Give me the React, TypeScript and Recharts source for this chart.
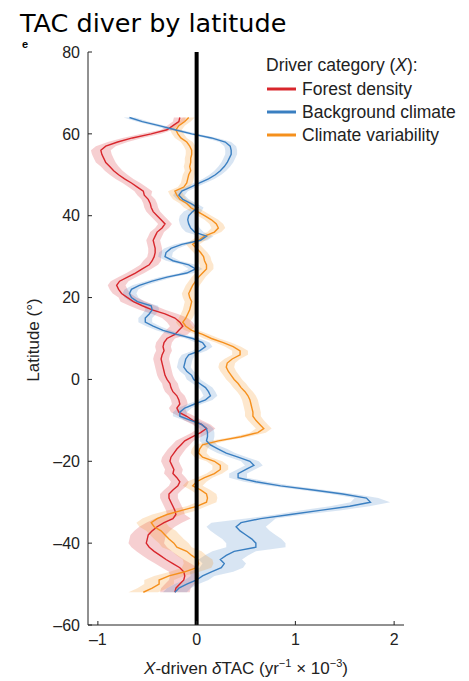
import React from "react";
import {
  ComposedChart, Line, Area, XAxis, YAxis, ReferenceLine,
} from "recharts";

// latitude (deg), north to south
const LATS = [
  64, 63, 62, 61, 60, 59, 58, 57, 56, 55,
  54, 53, 52, 51, 50, 49, 48, 47, 46, 45,
  44, 43, 42, 41, 40, 39, 38, 37, 36, 35,
  34, 33, 32, 31, 30, 29, 28, 27, 26, 25,
  24, 23, 22, 21, 20, 19, 18, 17, 16, 15,
  14, 13, 12, 11, 10, 9, 8, 7, 6, 5,
  4, 3, 2, 1, 0, -1, -2, -3, -4, -5,
  -6, -7, -8, -9, -10, -11, -12, -13, -14, -15,
  -16, -17, -18, -19, -20, -21, -22, -23, -24, -25,
  -26, -27, -28, -29, -30, -31, -32, -33, -34, -35,
  -36, -37, -38, -39, -40, -41, -42, -43, -44, -45,
  -46, -47, -48, -49, -50, -51, -52,
];

const FOREST_DENSITY = [
  -0.17, -0.18, -0.24, -0.30, -0.46, -0.65, -0.80, -0.92, -0.97, -0.96,
  -0.94, -0.92, -0.88, -0.84, -0.79, -0.73, -0.66, -0.60, -0.54, -0.53,
  -0.49, -0.47, -0.46, -0.44, -0.40, -0.36, -0.32, -0.35, -0.40, -0.42,
  -0.44, -0.43, -0.42, -0.42, -0.43, -0.45, -0.48, -0.55, -0.62, -0.70,
  -0.78, -0.81, -0.79, -0.76, -0.70, -0.64, -0.55, -0.45, -0.32, -0.22,
  -0.17, -0.14, -0.18, -0.22, -0.30, -0.33, -0.34, -0.33, -0.35, -0.36,
  -0.35, -0.34, -0.33, -0.32, -0.30, -0.27, -0.26, -0.24, -0.20, -0.18,
  -0.17, -0.20, -0.18, -0.10, -0.04, 0.05, 0.10, 0.04, -0.04, -0.12,
  -0.16, -0.20, -0.23, -0.26, -0.27, -0.25, -0.23, -0.24, -0.20, -0.17,
  -0.19, -0.24, -0.28, -0.28, -0.26, -0.24, -0.22, -0.21, -0.24, -0.33,
  -0.40, -0.45, -0.49, -0.50, -0.51, -0.48, -0.43, -0.37, -0.31, -0.24,
  -0.17, -0.13, -0.12, -0.13, -0.17, -0.21, -0.22,
];

const BACKGROUND_CLIMATE = [
  -0.68, -0.55, -0.38, -0.22, -0.05, 0.15, 0.29, 0.34, 0.35, 0.35,
  0.33, 0.31, 0.28, 0.24, 0.19, 0.12, 0.03, -0.06, -0.15, -0.18,
  -0.14, -0.06, 0.01, -0.04, -0.08, -0.09, -0.08, -0.06, -0.02, 0.10,
  0.04, -0.15, -0.26, -0.31, -0.32, -0.24, -0.08, -0.01, -0.10, -0.30,
  -0.45, -0.58, -0.66, -0.68, -0.66, -0.60, -0.46, -0.45, -0.48, -0.52,
  -0.52, -0.44, -0.34, -0.20, -0.04, 0.06, 0.09, 0.03, -0.08, -0.11,
  -0.12, -0.13, -0.10, -0.05, -0.03, 0.03, 0.09, 0.12, 0.14, 0.09,
  -0.02, -0.12, -0.17, -0.17, -0.06, 0.05, 0.10, 0.11, 0.11, 0.10,
  0.14, 0.22, 0.30, 0.42, 0.54, 0.58, 0.50, 0.42, 0.42, 0.60,
  0.85, 1.18, 1.48, 1.72, 1.76, 1.55, 1.25, 0.95, 0.65, 0.45,
  0.40, 0.44, 0.50, 0.56, 0.60, 0.60, 0.38, 0.30, 0.24, 0.28,
  0.25, 0.15, 0.06, 0.00, -0.10, -0.18, -0.22,
];

const CLIMATE_VARIABILITY = [
  -0.08, -0.12, -0.18, -0.21, -0.19, -0.16, -0.10, -0.07, -0.05, -0.05,
  -0.06, -0.06, -0.07, -0.06, -0.08, -0.09, -0.10, -0.13, -0.22, -0.20,
  -0.17, -0.10, -0.06, 0.01, 0.08, 0.15, 0.20, 0.22, 0.18, 0.08,
  0.02, -0.04, 0.00, 0.04, 0.07, 0.08, 0.10, 0.10, 0.06, 0.02,
  -0.01, -0.04, -0.06, -0.08, -0.07, -0.05, -0.06, -0.07, -0.09, -0.11,
  -0.14, -0.11, -0.05, 0.06, 0.15, 0.27, 0.37, 0.44, 0.44, 0.36,
  0.31, 0.30, 0.32, 0.35, 0.38, 0.42, 0.45, 0.49, 0.52, 0.54,
  0.55, 0.56, 0.57, 0.57, 0.60, 0.64, 0.68, 0.62, 0.45, 0.22,
  0.06, 0.03, 0.02, 0.06, 0.18, 0.24, 0.24, 0.18, 0.08, 0.00,
  -0.04, 0.04, 0.10, 0.11, 0.10, 0.00, -0.15, -0.30, -0.40, -0.46,
  -0.43, -0.36, -0.32, -0.28, -0.23, -0.20, -0.10, -0.05, 0.01, 0.02,
  0.00, -0.12, -0.28, -0.38, -0.38, -0.45, -0.54,
];

// half-width of the shaded uncertainty band
const FOREST_DENSITY_ERR = [
  0.06, 0.06, 0.06, 0.06, 0.10, 0.10, 0.10, 0.10, 0.10, 0.10,
  0.10, 0.10, 0.09, 0.09, 0.09, 0.09, 0.09, 0.09, 0.09, 0.07,
  0.07, 0.07, 0.07, 0.07, 0.07, 0.07, 0.07, 0.07, 0.07, 0.07,
  0.07, 0.07, 0.07, 0.07, 0.07, 0.09, 0.09, 0.09, 0.09, 0.09,
  0.09, 0.09, 0.09, 0.09, 0.09, 0.13, 0.13, 0.13, 0.13, 0.13,
  0.13, 0.13, 0.13, 0.13, 0.08, 0.08, 0.08, 0.08, 0.08, 0.08,
  0.08, 0.08, 0.08, 0.08, 0.08, 0.08, 0.08, 0.08, 0.08, 0.08,
  0.08, 0.08, 0.08, 0.08, 0.09, 0.09, 0.09, 0.09, 0.09, 0.09,
  0.09, 0.09, 0.09, 0.09, 0.09, 0.09, 0.09, 0.09, 0.09, 0.09,
  0.09, 0.09, 0.09, 0.09, 0.09, 0.09, 0.09, 0.09, 0.18, 0.18,
  0.18, 0.18, 0.18, 0.18, 0.18, 0.18, 0.18, 0.18, 0.18, 0.18,
  0.18, 0.15, 0.15, 0.15, 0.15, 0.15, 0.15,
];

const BACKGROUND_CLIMATE_ERR = [
  0.06, 0.06, 0.06, 0.06, 0.06, 0.06, 0.06, 0.06, 0.06, 0.06,
  0.06, 0.06, 0.06, 0.06, 0.06, 0.06, 0.06, 0.06, 0.06, 0.06,
  0.06, 0.06, 0.06, 0.09, 0.09, 0.09, 0.09, 0.09, 0.09, 0.07,
  0.07, 0.07, 0.07, 0.07, 0.07, 0.07, 0.07, 0.07, 0.07, 0.07,
  0.07, 0.07, 0.07, 0.07, 0.07, 0.07, 0.07, 0.07, 0.07, 0.07,
  0.07, 0.07, 0.07, 0.07, 0.07, 0.07, 0.07, 0.07, 0.07, 0.07,
  0.07, 0.07, 0.07, 0.07, 0.07, 0.07, 0.07, 0.07, 0.07, 0.07,
  0.07, 0.07, 0.07, 0.07, 0.07, 0.07, 0.07, 0.07, 0.07, 0.07,
  0.07, 0.09, 0.09, 0.09, 0.09, 0.09, 0.09, 0.09, 0.09, 0.12,
  0.12, 0.12, 0.12, 0.12, 0.20, 0.20, 0.20, 0.15, 0.15, 0.30,
  0.30, 0.30, 0.30, 0.30, 0.30, 0.30, 0.22, 0.22, 0.22, 0.22,
  0.22, 0.22, 0.12, 0.12, 0.12, 0.12, 0.12,
];

const CLIMATE_VARIABILITY_ERR = [
  0.06, 0.06, 0.06, 0.06, 0.06, 0.06, 0.06, 0.06, 0.06, 0.06,
  0.06, 0.06, 0.06, 0.06, 0.06, 0.06, 0.06, 0.06, 0.07, 0.07,
  0.07, 0.07, 0.07, 0.07, 0.07, 0.07, 0.07, 0.07, 0.07, 0.07,
  0.07, 0.07, 0.07, 0.07, 0.07, 0.07, 0.07, 0.07, 0.07, 0.07,
  0.07, 0.07, 0.07, 0.07, 0.07, 0.07, 0.07, 0.07, 0.07, 0.07,
  0.07, 0.07, 0.07, 0.07, 0.08, 0.08, 0.08, 0.08, 0.08, 0.08,
  0.08, 0.08, 0.08, 0.08, 0.08, 0.08, 0.08, 0.08, 0.08, 0.08,
  0.08, 0.08, 0.08, 0.08, 0.08, 0.08, 0.08, 0.08, 0.08, 0.08,
  0.08, 0.08, 0.08, 0.08, 0.08, 0.08, 0.08, 0.08, 0.08, 0.10,
  0.10, 0.10, 0.10, 0.10, 0.10, 0.10, 0.15, 0.15, 0.15, 0.15,
  0.15, 0.15, 0.15, 0.15, 0.15, 0.15, 0.15, 0.15, 0.15, 0.15,
  0.15, 0.15, 0.15, 0.15, 0.15, 0.15, 0.15,
];

const X_TICKS = [-1, 0, 1, 2];
const Y_TICKS = [-60, -40, -20, 0, 20, 40, 60, 80];

const RED = "#d8262c";
const BLUE = "#3a7fc1";
const ORANGE = "#f5901d";
const AXIS = "#222";
const SANS = "'Liberation Sans', Arial, Helvetica, sans-serif";

const rows = LATS.map((lat, i) => ({
  lat,
  forest: FOREST_DENSITY[i],
  forestBand: [FOREST_DENSITY[i] - FOREST_DENSITY_ERR[i], FOREST_DENSITY[i] + FOREST_DENSITY_ERR[i]],
  background: BACKGROUND_CLIMATE[i],
  backgroundBand: [BACKGROUND_CLIMATE[i] - BACKGROUND_CLIMATE_ERR[i], BACKGROUND_CLIMATE[i] + BACKGROUND_CLIMATE_ERR[i]],
  variability: CLIMATE_VARIABILITY[i],
  variabilityBand: [CLIMATE_VARIABILITY[i] - CLIMATE_VARIABILITY_ERR[i], CLIMATE_VARIABILITY[i] + CLIMATE_VARIABILITY_ERR[i]],
}));

const fmt = (v: number) => (v < 0 ? `\u2013${Math.abs(v)}` : `${v}`);

const LEGEND = [
  { name: "Forest density", color: RED },
  { name: "Background climate", color: BLUE },
  { name: "Climate variability", color: ORANGE },
];

function Overlay() {
  return (
    <svg
      width={469}
      height={681}
      style={{ position: "absolute", left: 0, top: 0, pointerEvents: "none" }}
    >
      <defs>
        <clipPath id="panelClip">
          <rect x={0} y={40} width={60} height={12} />
        </clipPath>
      </defs>
      {/* panel letter, mostly hidden under the title */}
      <text x={22} y={48} fontFamily={SANS} fontWeight="bold" fontSize={11} fill="#000" clipPath="url(#panelClip)">
        e
      </text>
      <text x={20} y={31.5} fontFamily="'DejaVu Sans', sans-serif" fontSize={25.5} fill="#000">
        TAC diver by latitude
      </text>

      <text x={266} y={71} fontFamily={SANS} fontSize={17.5} fill={AXIS}>
        Driver category (<tspan fontStyle="italic">X</tspan>):
      </text>
      {LEGEND.map((d, i) => (
        <g key={d.name}>
          <line x1={267} x2={296} y1={89 + i * 23} y2={89 + i * 23} stroke={d.color} strokeWidth={3} />
          <text x={302} y={95 + i * 23} fontFamily={SANS} fontSize={17.5} fill={AXIS}>
            {d.name}
          </text>
        </g>
      ))}

      <text
        x={33}
        y={340}
        transform="rotate(-90 33 340)"
        textAnchor="middle"
        dominantBaseline="central"
        fontFamily={SANS}
        fontSize={17}
        fill={AXIS}
      >
        Latitude (°)
      </text>
      <text x={246} y={674} textAnchor="middle" fontFamily={SANS} fontSize={17} fill={AXIS}>
        <tspan fontStyle="italic">X</tspan>-driven <tspan fontStyle="italic">δ</tspan>TAC (yr
        <tspan fontSize={11} dy={-7}>{"\u22121"}</tspan>
        <tspan dy={7}> × 10</tspan>
        <tspan fontSize={11} dy={-7}>{"\u22123"}</tspan>
        <tspan dy={7}>)</tspan>
      </text>
    </svg>
  );
}

export default function App() {
  return (
    <div style={{ position: "absolute", left: 0, top: 0, width: 469, height: 681, background: "#fff" }}>
      <ComposedChart
        layout="vertical"
        width={469}
        height={681}
        data={rows}
        margin={{ top: 52, right: 65, bottom: 26, left: 28 }}
      >
        <XAxis
          type="number"
          domain={[-1.1, 2.1]}
          ticks={X_TICKS}
          allowDataOverflow
          height={30}
          tickSize={-4}
          tickMargin={13}
          tickFormatter={fmt}
          axisLine={{ stroke: AXIS }}
          tickLine={{ stroke: AXIS }}
          tick={{ fill: AXIS, fontSize: 16, fontFamily: SANS }}
        />
        <YAxis
          type="number"
          dataKey="lat"
          domain={[-60, 80]}
          ticks={Y_TICKS}
          reversed
          allowDataOverflow
          width={60}
          tickSize={-4}
          tickMargin={12}
          tickFormatter={fmt}
          axisLine={{ stroke: AXIS }}
          tickLine={{ stroke: AXIS }}
          tick={{ fill: AXIS, fontSize: 16, fontFamily: SANS }}
        />
        <Area dataKey="forestBand" type="linear" fill={RED} fillOpacity={0.22} stroke="none" isAnimationActive={false} />
        <Area dataKey="backgroundBand" type="linear" fill={BLUE} fillOpacity={0.2} stroke="none" isAnimationActive={false} />
        <Area dataKey="variabilityBand" type="linear" fill={ORANGE} fillOpacity={0.22} stroke="none" isAnimationActive={false} />
        <Line dataKey="forest" type="linear" stroke={RED} strokeWidth={1.4} dot={false} isAnimationActive={false} />
        <Line dataKey="variability" type="linear" stroke={ORANGE} strokeWidth={1.4} dot={false} isAnimationActive={false} />
        <Line dataKey="background" type="linear" stroke={BLUE} strokeWidth={1.4} dot={false} isAnimationActive={false} />
        <ReferenceLine x={0} stroke="#000" strokeWidth={4} />
      </ComposedChart>
      <Overlay />
    </div>
  );
}
